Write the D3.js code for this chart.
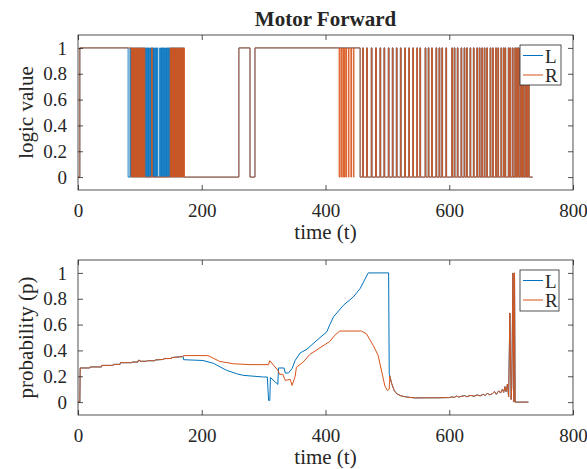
<!DOCTYPE html>
<html>
<head>
<meta charset="utf-8">
<script src="https://cdn.jsdelivr.net/npm/d3@7"></script>
<style>
  body { margin: 0; background: #fff; }
  svg text { font-family: 'Liberation Serif', 'Times New Roman', serif; fill: #262626; }
</style>
</head>
<body>
<div id="chart"></div>
<script>
(function(d3) {
  'use strict';

  // ---- data ----
  var seriesNames = ['L', 'R'];
  var xTicks = [0, 200, 400, 600, 800];
  var yTicks = [0, 0.2, 0.4, 0.6, 0.8, 1];

  // logic value: stretches where the signal is 1, [start, end] in t
  var lHigh = [[3, 81], [260, 278], [286, 456]];
  var rHigh = [[3, 86], [260, 278], [286, 422], [423, 425], [426, 428], [429, 430.5],
    [431.5, 433], [434, 437], [438, 441], [442, 445], [446, 456]];
  // fast toggling, one-unit pulses (start t)
  var lBurst = [84, 86, 88, 90, 92, 94, 96, 98, 100, 102, 104, 106, 108, 110, 112, 114,
    116, 118, 120, 122, 124, 126, 128, 132, 134, 136, 138, 140, 142, 144, 146, 148, 150,
    152, 154, 156, 158, 160, 162, 164, 166, 168, 170];
  var rBurst = [87, 89, 91, 93, 95, 97, 99, 101, 103, 105, 107, 119, 149, 151, 153, 155,
    157, 159, 161, 163, 165, 167, 169, 171];
  // short spikes to 1 seen on both sides near the end
  var spikeT = [460, 466.5, 474, 481, 488, 494.5, 501.5, 508, 514.5, 521, 528, 534.5, 541,
    547.5, 552.5, 561, 566, 571.5, 578.5, 583.5, 588, 594.5, 604, 608, 613, 619, 624, 628,
    633.5, 639, 644.5, 648.5, 652.5, 656.5, 660.5, 666, 670, 675, 678.5, 683.5, 687.5, 690,
    695.5, 698, 702, 706, 709, 711.5, 714.5, 717, 719.5, 722.5, 725, 728];
  var logicEnd = 735;

  // probability, [t, p]
  var probStart = [[0, 0], [3, 0], [3.5, 0.264], [19, 0.264], [19.5, 0.272], [38, 0.272],
    [38.5, 0.284], [57, 0.284], [57.5, 0.292], [68, 0.292], [68.5, 0.305], [87, 0.305],
    [87.5, 0.31], [97, 0.31], [97.5, 0.323], [100, 0.323], [100.5, 0.316], [111, 0.316],
    [111.5, 0.32], [124, 0.32], [124.5, 0.326], [138, 0.33], [138.5, 0.336], [151, 0.338],
    [151.5, 0.345], [169, 0.352], [170, 0.354]];
  var lProbMid = [[170.5, 0.328], [202, 0.322], [219, 0.30], [240, 0.246], [256, 0.22],
    [267, 0.207], [300, 0.194], [306, 0.194], [308, 0.013], [310, 0.013], [311, 0.19],
    [323, 0.137], [324, 0.264], [333, 0.264], [335, 0.225], [340, 0.225], [346, 0.26],
    [351, 0.323], [359, 0.38], [370, 0.41], [386, 0.478], [402, 0.543], [407, 0.6],
    [413, 0.66], [429, 0.75], [445, 0.814], [456, 0.879], [469, 1], [502, 1], [503, 0.22]];
  var rProbMid = [[170.5, 0.36], [210, 0.36], [229, 0.315], [251, 0.297], [278, 0.29],
    [308, 0.29], [310, 0.32], [323, 0.246], [326, 0.215], [331, 0.215], [335, 0.168],
    [343, 0.176], [346, 0.129], [351, 0.2], [353, 0.27], [364, 0.31], [375, 0.37],
    [391, 0.42], [407, 0.47], [415, 0.517], [423, 0.55], [458, 0.55], [466, 0.53],
    [477, 0.44], [485, 0.362], [491, 0.233], [496, 0.124], [500, 0.09], [503, 0.1], [504, 0.2]];
  var probTail = [[507, 0.143], [511, 0.09], [515, 0.065], [522, 0.048], [531, 0.039],
    [545, 0.032], [560, 0.033], [580, 0.033], [600, 0.035], [605, 0.04], [608, 0.036],
    [612, 0.047], [615, 0.039], [620, 0.045], [625, 0.05], [628, 0.042], [635, 0.052],
    [640, 0.045], [645, 0.055], [650, 0.048], [655, 0.06], [658, 0.05], [662, 0.07],
    [665, 0.055], [670, 0.066], [673, 0.082], [676, 0.06], [680, 0.087], [683, 0.07],
    [686, 0.1], [688, 0.075], [690, 0.12], [692, 0.08], [694, 0.14], [696, 0.04],
    [698, 0.69], [700, 0.02], [701, 0.12], [703, 1], [704.5, 0], [705.5, 1], [706.5, 0], [728, 0]];

  var colors = { L: '#0072BD', R: '#D95319' };
  var axisColor = '#262626';
  var serif = "'Liberation Serif', 'Times New Roman', serif";

  var width = 587, height = 469;
  var left = 78, right = 573;

  var svg = d3.select('#chart').append('svg')
    .attr('width', width)
    .attr('height', height);

  var x = d3.scaleLinear().domain([0, 800]).range([left, right]);

  // turn on-intervals into a step series starting and ending at 0
  function stepSeries(high, bursts) {
    var iv = high
      .concat(bursts.map(function(s) { return [s, s + 1]; }))
      .concat(spikeT.map(function(s) { return [s, s + 1.2]; }));
    iv.sort(function(a, b) { return a[0] - b[0]; });
    var pts = [[0, 0]];
    iv.forEach(function(d) { pts.push([d[0], 1]); pts.push([d[1], 0]); });
    pts.push([logicEnd, 0]);
    return pts;
  }

  var panels = [
    {
      top: 35, bottom: 190, ylabel: 'logic value',
      legend: { x: 520, y: 45, w: 41, h: 40 },
      curve: d3.curveStepAfter, lw: 0.9,
      series: { L: stepSeries(lHigh, lBurst), R: stepSeries(rHigh, rBurst) }
    },
    {
      top: 260, bottom: 415, ylabel: 'probability (p)',
      legend: { x: 520, y: 270, w: 39, h: 41 },
      curve: d3.curveLinear, lw: 1,
      series: {
        L: probStart.concat(lProbMid, probTail),
        R: probStart.concat(rProbMid, probTail)
      }
    }
  ];

  panels.forEach(function(p, i) {
    var y = d3.scaleLinear().domain([-0.1, 1.1]).range([p.bottom, p.top]);
    var g = svg.append('g');

    svg.append('clipPath').attr('id', 'clip' + i)
      .append('rect')
      .attr('x', left).attr('y', p.top)
      .attr('width', right - left).attr('height', p.bottom - p.top);

    var line = d3.line()
      .x(function(d) { return x(d[0]); })
      .y(function(d) { return y(d[1]); })
      .curve(p.curve);

    seriesNames.forEach(function(name) {
      g.append('path')
        .attr('clip-path', 'url(#clip' + i + ')')
        .attr('d', line(p.series[name]))
        .attr('fill', 'none')
        .attr('stroke', colors[name])
        .attr('stroke-width', p.lw);
    });

    // axes, ticks pointing inward on all four sides
    var fmt = function(d) { return d; };
    var axes = [
      { ax: d3.axisBottom(x).tickValues(xTicks).tickFormat(fmt).tickPadding(14), tr: [0, p.bottom] },
      { ax: d3.axisTop(x).tickValues(xTicks).tickFormat(''), tr: [0, p.top] },
      { ax: d3.axisLeft(y).tickValues(yTicks).tickFormat(fmt).tickPadding(11), tr: [left, 0] },
      { ax: d3.axisRight(y).tickValues(yTicks).tickFormat(''), tr: [right, 0] }
    ];
    axes.forEach(function(a) {
      var ag = g.append('g')
        .attr('transform', 'translate(' + a.tr[0] + ',' + a.tr[1] + ')')
        .call(a.ax.tickSizeInner(-5).tickSizeOuter(0));
      ag.attr('font-family', serif).attr('font-size', 19);
      ag.select('.domain').remove();
      ag.selectAll('line').attr('stroke', axisColor).attr('stroke-width', 0.8);
      ag.selectAll('text').attr('fill', axisColor);
    });

    g.append('rect')
      .attr('x', left).attr('y', p.top)
      .attr('width', right - left).attr('height', p.bottom - p.top)
      .attr('fill', 'none')
      .attr('stroke', axisColor)
      .attr('stroke-width', 0.8);

    g.append('text')
      .attr('x', (left + right) / 2)
      .attr('y', p.bottom + 49)
      .attr('text-anchor', 'middle')
      .attr('font-size', 21)
      .text('time (t)');

    g.append('text')
      .attr('transform', 'translate(33,' + (p.top + p.bottom) / 2 + ') rotate(-90)')
      .attr('text-anchor', 'middle')
      .attr('font-size', 21)
      .text(p.ylabel);

    // legend
    var lg = g.append('g').attr('transform', 'translate(' + p.legend.x + ',' + p.legend.y + ')');
    lg.append('rect')
      .attr('width', p.legend.w).attr('height', p.legend.h)
      .attr('fill', '#fff')
      .attr('stroke', axisColor)
      .attr('stroke-width', 0.8);
    seriesNames.forEach(function(name, k) {
      var ly = 10.5 + k * 19.5;
      lg.append('line')
        .attr('x1', 3).attr('x2', 23)
        .attr('y1', ly).attr('y2', ly)
        .attr('stroke', colors[name])
        .attr('stroke-width', 1);
      lg.append('text')
        .attr('x', 25).attr('y', ly + 7)
        .attr('font-size', 19)
        .text(name);
    });
  });

  svg.append('text')
    .attr('x', (left + right) / 2)
    .attr('y', 26)
    .attr('text-anchor', 'middle')
    .attr('font-size', 21)
    .attr('font-weight', 'bold')
    .text('Motor Forward');
}(d3));
</script>
</body>
</html>
